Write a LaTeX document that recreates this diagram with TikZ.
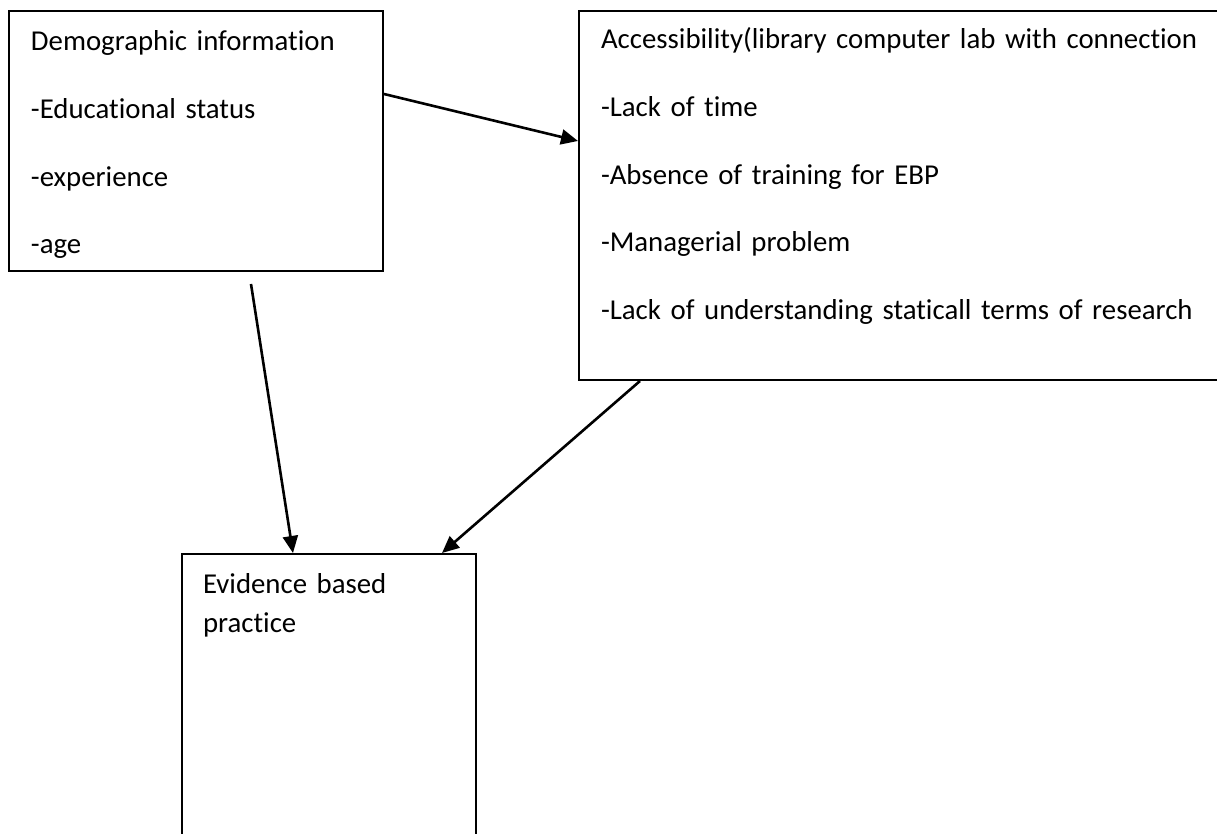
\documentclass[tikz,border=0pt]{standalone}
\usepackage{fontspec}
\setmainfont{Carlito}[Ligatures=NoCommon]
\usepackage{xcolor}
\usepackage{tikz}
\usetikzlibrary{arrows.meta, positioning}

\begin{document}
\begin{tikzpicture}[
    x=0.5pt, y=-0.5pt, % pixel grid, y pointing down
    box/.style={draw, line width=1pt, rectangle, anchor=north west, align=left, inner xsep=11pt, inner ysep=0pt, font=\fontsize{14.4}{33.8}\selectfont}, % open boxes with left text
    edge/.style={-{Triangle[length=8.5pt, width=7.5pt]}, line width=1.3pt}
]

% page frame
\clip (0,0) rectangle (1217,834);

% Boxes
\node[box, text width=165pt, text height=20pt, text depth=110pt] (demo) at (8,10)
    {Demographic information\\-Educational status\\-experience\\-age};
\node[box, text width=309pt, text height=19pt, text depth=165.5pt] (access) at (578,10)
    {Accessibility(library computer lab with connection\\-Lack of time\\-Absence of training for EBP\\-Managerial problem\\-Lack of understanding staticall terms of research};
\node[box, text width=126pt, text height=19.5pt, text depth=154pt, inner xsep=10.5pt, font=\fontsize{14.4}{20}\selectfont] (evidence) at (181,553)
    {Evidence based\\practice};

\coordinate (agetail) at (251,284);

% Edges
\draw[edge] ([yshift=23.5pt]demo.east) -- ([yshift=27.25pt]access.west);
\draw[edge] (agetail) -- ([xshift=56pt]evidence.north west);
\draw[edge] ([xshift=31pt]access.south west) -- ([xshift=-17.5pt]evidence.north east);

\end{tikzpicture}
\end{document}
